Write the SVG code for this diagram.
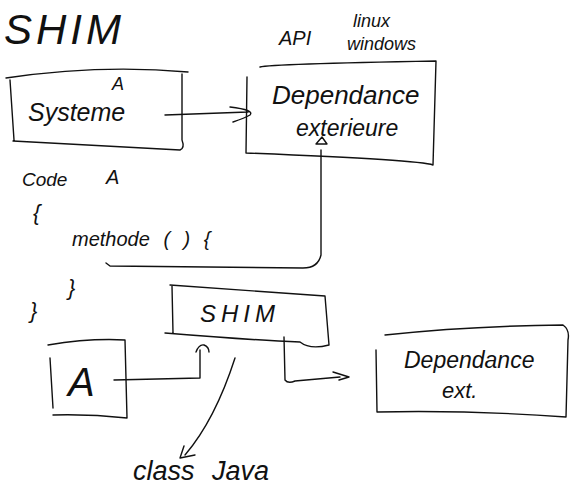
<svg xmlns="http://www.w3.org/2000/svg" width="570" height="492" viewBox="0 0 570 492">
<defs>
<style>
.s{fill:none;stroke:#111;stroke-width:1.4;stroke-linecap:round;stroke-linejoin:round}
.t{font-family:"Liberation Sans","DejaVu Sans",sans-serif;fill:#111;font-style:italic}
</style>
</defs>
<rect width="570" height="492" fill="#fff"/>
<text class="t" x="4" y="44" font-size="42" letter-spacing="4">SHIM</text>
<g id="system">
<path class="s" d="M6,78 Q100,64 188,72 M10,80 L14,140 M13,141 Q100,146 180,150 Q185,148 182,140 L182,74"/>
<text class="t" x="112" y="90" font-size="18">A</text>
<text class="t" x="28" y="121" font-size="25">Systeme</text>
</g>
<g id="dependance">
<path class="s" d="M260,67 Q270,64 436,61 L433,165 Q420,160 246,153 L247,77"/>
<text class="t" x="279" y="45" font-size="20">API</text>
<text class="t" x="353" y="27" font-size="18">linux</text>
<text class="t" x="347" y="50" font-size="18">windows</text>
<text class="t" x="272" y="104" font-size="26">Dependance</text>
<text class="t" x="296" y="136" font-size="23">exterieure</text>
</g>
<g id="code">
<text class="t" x="22" y="186" font-size="19">Code</text>
<text class="t" x="106" y="184" font-size="20">A</text>
<text class="t" x="33" y="220" font-size="22">{</text>
<text class="t" x="72" y="246" font-size="20" word-spacing="8">methode ( ) {</text>
<text class="t" x="68" y="295" font-size="22">}</text>
<text class="t" x="30" y="318" font-size="22">}</text>
</g>
<g id="shim">
<path class="s" d="M170,285 L325,296 L329,345 Q310,350 300,342 Q250,340 165,333 M172,286 L173,333"/>
<text class="t" x="200" y="322" font-size="24" letter-spacing="5">SHIM</text>
</g>
<g id="a">
<path class="s" d="M48,345 Q90,338 125,340 L127,418 Q90,414 53,415 M50,358 L53,408"/>
<text class="t" x="68" y="396" font-size="40">A</text>
</g>
<g id="depext">
<path class="s" d="M385,335 Q470,326 563,325 Q570,330 568,340 L566,417 Q470,410 377,412 L376,350"/>
<text class="t" x="404" y="368" font-size="23">Dependance</text>
<text class="t" x="442" y="398" font-size="22">ext.</text>
</g>
<g id="classjava">
<text class="t" x="133" y="480" font-size="27" word-spacing="10">class Java</text>
</g>
<g id="connectors">
<path class="s" d="M165,115 L248,112 M230,107 Q255,110 250,115 Q245,118 233,122"/>
<path class="s" d="M321,150 L321,255 Q318,268 303,268 L110,266 L106,263"/>
<path class="s" d="M316,144 L322,137 L327,144 Z"/>
<path class="s" d="M114,380 L200,378 L200,350 M196,352 Q199,344 204,345 Q209,347 209,352"/>
<path class="s" d="M284,337 L285,380 Q288,384 295,381 L340,377 M333,372 L349,377 L339,380"/>
<path class="s" d="M235,358 Q215,420 185,455 M184,446 L180,458 L195,455"/>
</g>
</svg>
